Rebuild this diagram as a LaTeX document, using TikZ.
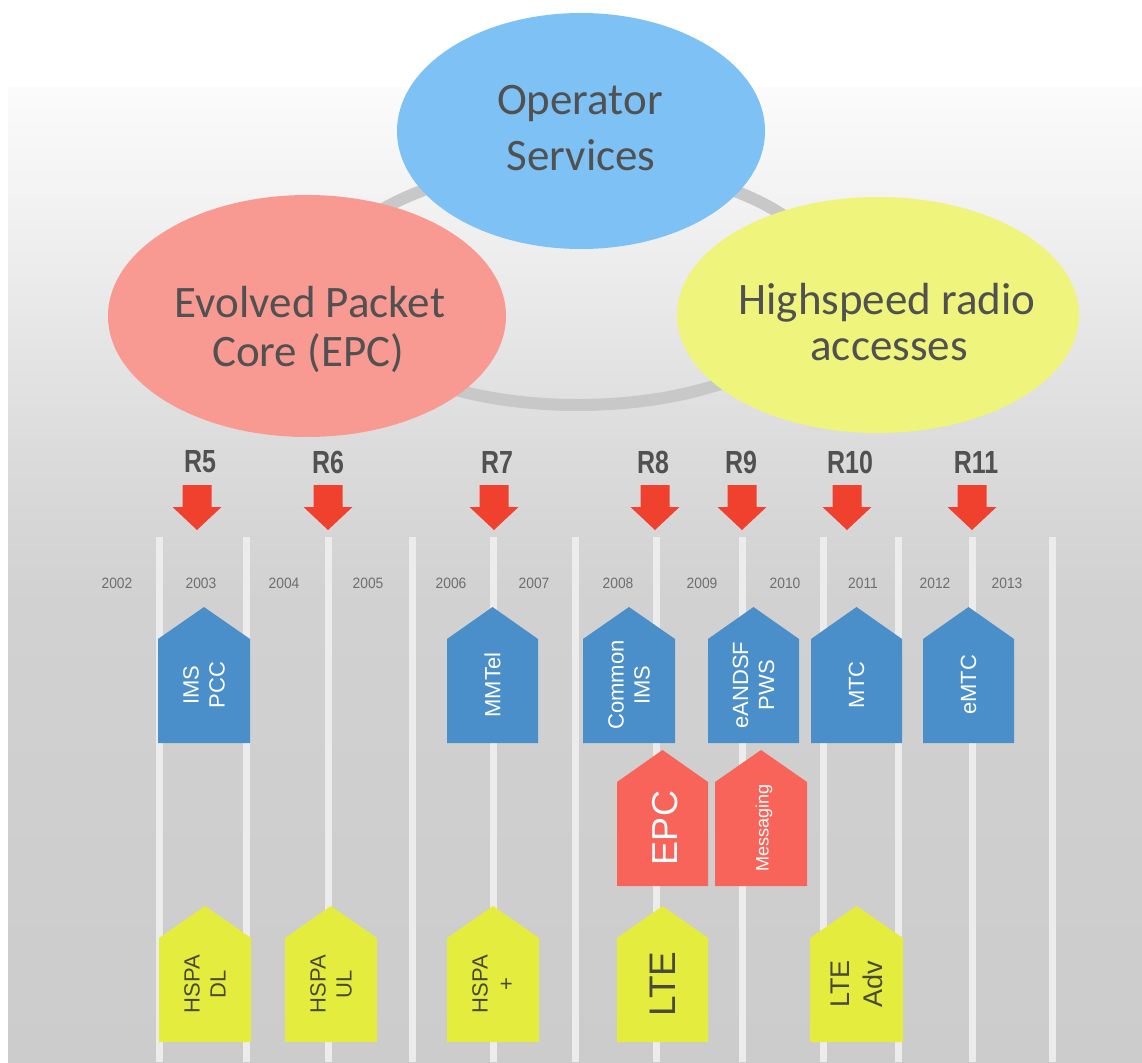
\documentclass[tikz,border=0pt]{standalone}
\usepackage{fontspec}
\usetikzlibrary{shapes.geometric}

\newfontfamily\ellfont{Carlito}
\newfontfamily\relfont[FakeStretch=0.78]{Liberation Sans}
\newfontfamily\yrfont[FakeStretch=0.92]{Liberation Sans}
\newfontfamily\boxfont{Liberation Sans}

\definecolor{opblue}{HTML}{7DC1F5}
\definecolor{epcred}{HTML}{F89A92}
\definecolor{hsyellow}{HTML}{EEF47C}
\definecolor{ringgray}{HTML}{C8C8C8}
\definecolor{boxblue}{HTML}{4A8FCA}
\definecolor{boxred}{HTML}{F8645A}
\definecolor{boxyellow}{HTML}{E4EC3E}
\definecolor{arrowred}{HTML}{F0412F}
\definecolor{labelgray}{HTML}{515151}
\definecolor{yeargray}{HTML}{6E6E6E}
\definecolor{trackgray}{HTML}{ECECEC}
\definecolor{boxtextdark}{HTML}{4A4A3C}

% house-shaped feature box: name, left x, right x, peak y, fill, text style, text
\newcommand\featurebox[7]{%
  \fill[#5] (#2,{#4+32}) -- ({(#2+#3)/2},#4) -- (#3,{#4+32}) -- (#3,{#4+136}) -- (#2,{#4+136}) -- cycle;
  \node[boxtext,#6] (#1) at ({(#2+#3)/2},{#4+78}) {#7};
}

% release marker: name, label x, arrow tip x, label
\newcommand\release[4]{%
  \node[rellabel] (#1) at (#2,462) {#4};
  \coordinate (#1tip) at (#3,530);
  \fill[arrowred] ({#3-14.5},485) -- ({#3+14.5},485) -- ({#3+14.5},507) -- ({#3+24.5},507)
     -- (#1tip) -- ({#3-24.5},507) -- ({#3-14.5},507) -- cycle;
}

\begin{document}
\begin{tikzpicture}[x=1pt,y=-1pt,
  bubble/.style={ellipse, inner sep=0pt},
  bubbletext/.style={anchor=base, inner sep=0pt, text=labelgray,
     font=\ellfont\fontsize{45}{52}\selectfont},
  rellabel/.style={inner sep=0pt, text=labelgray,
     font=\relfont\bfseries\fontsize{32}{36}\selectfont},
  yearlabel/.style={inner sep=0pt, text=yeargray,
     font=\yrfont\fontsize{15}{18}\selectfont},
  track/.style={trackgray, line width=7pt},
  boxtext/.style={rotate=90, align=center, inner sep=0pt,
     font=\boxfont\fontsize{22}{26}\selectfont},
]
\useasboundingbox (0,0) rectangle (1142,1062);

% background
\fill[white] (0,0) rectangle (1142,1062);
\shade[top color=white!98.5!black, bottom color=white!95!black] (8,88) rectangle (1142,200);
\shade[top color=white!95!black, bottom color=white!86!black] (8,200) rectangle (1142,450);
\shade[top color=white!86!black, bottom color=white!82!black] (8,450) rectangle (1142,600);
\shade[top color=white!82!black, bottom color=white!80!black] (8,600) rectangle (1142,1062);

% ring joining the three domains
\draw[ringgray, line width=12pt] (578,285) ellipse [x radius=252, y radius=120];

% domains
\node[bubble, fill=opblue, minimum width=368, minimum height=236] (ops) at (581,131) {};
\node[bubble, fill=epcred, minimum width=398, minimum height=242] (epc) at (307,316) {};
\node[bubble, fill=hsyellow, minimum width=402, minimum height=236] (radio) at (878,315) {};

\node[bubbletext] (opsA) at (580,115) {Operator};
\node[bubbletext] (opsB) at (581,170) {Services};
\node[bubbletext] (epcA) at (310,317) {Evolved Packet};
\node[bubbletext] (epcB) at (308,366) {Core (EPC)};
\node[bubbletext] (radioA) at (887,314) {Highspeed radio};
\node[bubbletext] (radioB) at (889,360) {accesses};

% timeline tracks
\foreach \tx [count=\i] in {159,246,328,412,493,575,656,742,823,898,972,1052}
  \draw[track] (\tx,537) -- (\tx,1062) coordinate (track\i);

% years
\foreach \yx/\yr in {117/2002,201/2003,284/2004,368/2005,451/2006,534/2007,
                     618/2008,702/2009,785/2010,863/2011,935/2012,1007/2013}
  \node[yearlabel] (y\yr) at (\yx,583) {\yr};

% releases
\release{R5}{200}{197}{R5}
\release{R6}{328}{328}{R6}
\release{R7}{497}{494}{R7}
\release{R8}{653}{655}{R8}
\release{R9}{741}{742}{R9}
\release{R10}{850}{847}{R10}
\release{R11}{976}{972}{R11}

% service features
\featurebox{imspcc}{158}{250}{607}{boxblue}{text=white}{IMS\\PCC}
\featurebox{mmtel}{447}{538}{607}{boxblue}{text=white}{MMTel}
\featurebox{commonims}{583}{675}{607}{boxblue}{text=white}{Common\\IMS}
\featurebox{eandsf}{708}{799}{607}{boxblue}{text=white}{eANDSF\\PWS}
\featurebox{mtc}{811}{902}{607}{boxblue}{text=white}{MTC}
\featurebox{emtc}{923}{1014}{607}{boxblue}{text=white}{eMTC}

% core features
\featurebox{epcbox}{617}{708}{750}{boxred}{text=white, yshift=-3pt, font=\boxfont\fontsize{36}{40}\selectfont}{EPC}
\featurebox{msg}{715}{807}{750}{boxred}{text=white, yshift=-3pt, font=\boxfont\fontsize{18}{22}\selectfont}{Messaging}

% radio features
\featurebox{hspadl}{159}{251}{906}{boxyellow}{text=boxtextdark}{HSPA\\DL}
\featurebox{hspaul}{285}{377}{906}{boxyellow}{text=boxtextdark}{HSPA\\UL}
\featurebox{hspaplus}{447}{539}{906}{boxyellow}{text=boxtextdark}{HSPA\\+}
\featurebox{lte}{617}{708}{906}{boxyellow}{text=boxtextdark, font=\boxfont\fontsize{37}{40}\selectfont}{LTE}
\featurebox{lteadv}{810}{903}{906}{boxyellow}{text=boxtextdark, font=\boxfont\fontsize{27}{33}\selectfont}{LTE\\Adv}
\end{tikzpicture}
\end{document}
